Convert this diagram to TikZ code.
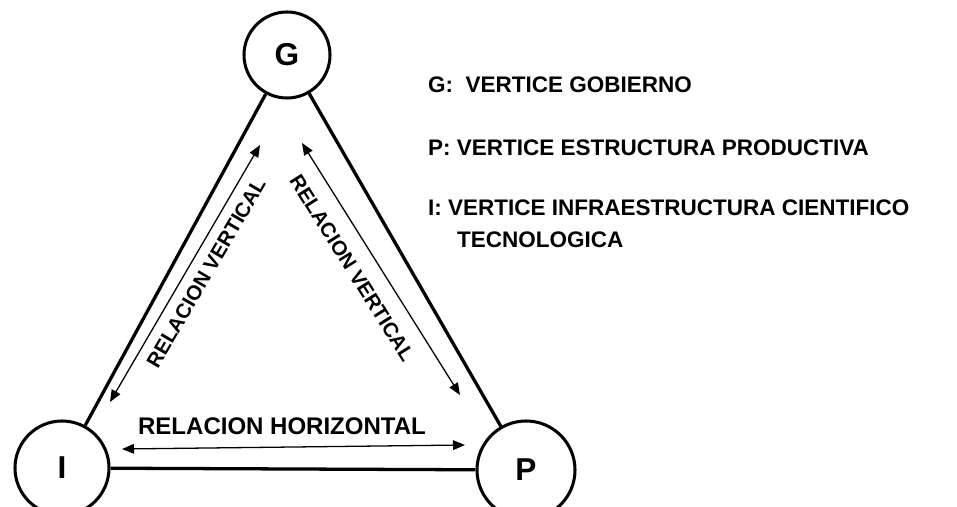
\documentclass[tikz,border=0pt]{standalone}
\usepackage{fontspec}
\setmainfont{Liberation Sans}
\usetikzlibrary{arrows.meta}

\begin{document}
\begin{tikzpicture}[
          x=0.03cm, y=0.03cm,
          every node/.style={font=\bfseries},
          vertex/.style={draw, circle, line width=2.6pt, inner sep=0pt, font=\fontsize{27}{29}\selectfont\bfseries},
          side/.style={line width=2.8pt},
          rel/.style={{Triangle[length=0.36cm,width=0.29cm]}-{Triangle[length=0.36cm,width=0.29cm]}, line width=1.1pt},
          lbl/.style={font=\fontsize{17.5}{19}\selectfont\bfseries},
          key/.style={anchor=west, font=\fontsize{19.2}{21}\selectfont\bfseries}
      ]
        \useasboundingbox (0,0) rectangle (957,506);

        \node[vertex, minimum size=2.58cm] (G) at (287,451) {G};
        \node[vertex, minimum size=2.82cm] (I) at (62,38) {I};
        \node[vertex, minimum size=2.94cm] (P) at (526,36) {P};

        \draw[side] (I) -- (G);
        \draw[side] (G) -- (P);
        \draw[side] (I) -- (P);

        \coordinate (il) at (110,104);
        \coordinate (gl) at (260,361);
        \coordinate (gr) at (302,363);
        \coordinate (pr) at (460,111);
        \coordinate (ih) at (122,57);
        \coordinate (ph) at (465,61);

        \draw[rel] (il) -- (gl);
        \draw[rel] (gr) -- (pr);
        \draw[rel] (ih) -- (ph);

        \node[lbl, rotate=59.7] (vleft) at (206,233) {RELACION VERTICAL};
        \node[lbl, rotate=-57.9] (vright) at (352,238) {RELACION VERTICAL};
        \node[lbl, font=\fontsize{20.5}{22}\selectfont\bfseries] (horiz) at (282,80) {RELACION HORIZONTAL};

        \node[key] (kg) at (424,421) {G:\ \ VERTICE GOBIERNO};
        \node[key] (kp) at (424,358) {P: VERTICE ESTRUCTURA PRODUCTIVA};
        \node[key] (ki) at (424,298) {I: VERTICE INFRAESTRUCTURA CIENTIFICO};
        \node[key] (kt) at (453,266) {TECNOLOGICA};
      \end{tikzpicture}
\end{document}
